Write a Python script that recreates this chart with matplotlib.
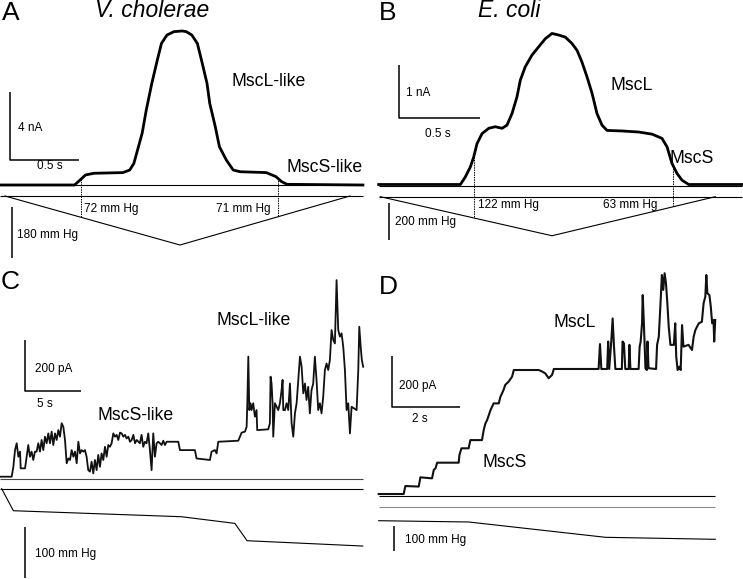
import matplotlib
matplotlib.use("Agg")
import matplotlib.pyplot as plt
import numpy as np

plt.rcParams['font.family'] = ['Liberation Sans', 'DejaVu Sans']

# ---------------- data ----------------
# Panel A (V. cholerae): current (nA) vs time (s), pressure ramp (mm Hg)
a_time = [0, 0.54, 0.58, 0.62, 0.68, 0.89, 0.94, 0.97, 0.99, 1.03,
          1.06, 1.10, 1.14, 1.17, 1.21, 1.26, 1.32, 1.35, 1.39, 1.43,
          1.46, 1.50, 1.52, 1.56, 1.59, 1.64, 1.69, 1.74, 1.93, 2.00,
          2.04, 2.08, 2.63]
a_current = [0, 0, 0.29, 0.59, 0.69, 0.73, 0.88, 1.27, 1.86, 3.04,
             4.41, 5.98, 7.35, 8.33, 8.82, 9.02, 9.06, 9.02, 8.82, 8.33,
             7.35, 5.98, 4.80, 3.43, 2.25, 1.47, 0.88, 0.78, 0.73, 0.49,
             0.20, 0.04, 0]
a_p_time = [0.036, 1.304, 2.536]
a_pressure = [0, -173, 0]
a_open_times = [0.587, 2.012]
a_open_labels = ["72 mm Hg", "71 mm Hg"]

# Panel B (E. coli)
b_time = [0, 0.501, 0.531, 0.562, 0.583, 0.603, 0.634, 0.675, 0.715, 0.757,
          0.787, 0.818, 0.848, 0.869, 0.899, 0.940, 0.982, 1.022, 1.063, 1.104,
          1.145, 1.186, 1.217, 1.247, 1.278, 1.309, 1.339, 1.370, 1.401, 1.493,
          1.595, 1.677, 1.738, 1.769, 1.799, 1.830, 1.861, 1.902, 2.229]
b_current = [0, 0, 0.14, 0.33, 0.52, 0.77, 0.96, 1.06, 1.09, 1.06,
             1.12, 1.34, 1.65, 1.97, 2.22, 2.44, 2.60, 2.75, 2.85, 2.82,
             2.78, 2.66, 2.53, 2.31, 2.03, 1.72, 1.34, 1.12, 1.02, 1.01,
             0.99, 0.95, 0.87, 0.71, 0.40, 0.21, 0.08, 0, 0]
b_p_time = [0.010, 1.063, 2.065]
b_pressure = [0, -213, 0]
b_open_times = [0.583, 1.806]
b_open_labels = ["122 mm Hg", "63 mm Hg"]

# Panel C (V. cholerae, single channels): current (pA) vs time (s)
c_time = [0.00, 1.05, 1.20, 1.35, 1.50, 1.65, 1.80, 1.86, 2.25, 2.40,
          2.54, 2.69, 2.84, 2.99, 3.14, 3.29, 3.44, 3.59, 3.74, 3.89,
          4.04, 4.19, 4.34, 4.49, 4.64, 4.79, 4.94, 5.09, 5.24, 5.39,
          5.54, 5.69, 5.84, 5.99, 6.14, 6.29, 6.44, 6.59, 6.74, 6.89,
          7.04, 7.19, 7.34, 7.49, 7.63, 7.78, 7.93, 8.08, 8.23, 8.38,
          8.53, 8.68, 8.83, 8.98, 9.13, 9.28, 9.43, 9.58, 9.73, 9.88,
          10.03, 10.18, 10.33, 10.48, 10.63, 10.78, 10.93, 11.08, 11.23, 11.38,
          11.53, 11.68, 11.83, 11.98, 12.13, 12.28, 12.43, 12.57, 12.72, 12.87,
          13.02, 13.17, 13.32, 13.47, 13.62, 13.77, 13.92, 14.07, 14.22, 14.37,
          14.52, 14.67, 14.82, 14.97, 16.02, 16.17, 17.51, 17.66, 18.86, 19.01,
          19.31, 19.46, 19.61, 21.41, 21.56, 21.71, 22.01, 22.16, 22.22, 22.31,
          22.40, 22.51, 22.60, 22.75, 22.90, 23.05, 23.11, 24.10, 24.25, 24.31,
          24.40, 24.49, 24.55, 24.70, 24.85, 25.00, 25.15, 25.30, 25.39, 25.45,
          25.60, 25.75, 25.90, 26.05, 26.20, 26.35, 26.50, 26.65, 26.80, 26.95,
          27.10, 27.25, 27.40, 27.54, 27.69, 27.84, 27.99, 28.14, 28.29, 28.44,
          28.59, 28.74, 28.89, 29.04, 29.19, 29.34, 29.49, 29.64, 29.79, 29.94,
          30.09, 30.24, 30.39, 30.54, 30.69, 30.84, 30.99, 31.14, 31.29, 31.44,
          31.59, 32.04, 32.19, 32.28, 32.43, 32.51, 32.63]
c_current = [0, 0, 39, 105, 132, 79, 99, 33, 33, 79,
             125, 79, 99, 66, 99, 99, 132, 99, 145, 105,
             158, 132, 171, 132, 178, 125, 171, 145, 184, 158,
             211, 197, 145, 53, 72, 66, 105, 79, 99, 53,
             138, 92, 105, 99, 105, 79, 26, 20, 59, 13,
             66, 26, 86, 39, 92, 66, 118, 79, 125, 118,
             132, 171, 158, 165, 145, 174, 171, 158, 165, 151,
             158, 138, 145, 165, 132, 145, 138, 132, 165, 118,
             138, 132, 171, 105, 26, 171, 79, 132, 138, 132,
             125, 142, 125, 138, 138, 105, 105, 72, 66, 99,
             105, 92, 138, 142, 158, 174, 178, 197, 290, 474,
             263, 290, 263, 290, 237, 263, 184, 187, 211, 395,
             368, 290, 158, 290, 276, 263, 290, 342, 382, 263,
             263, 290, 263, 368, 211, 158, 250, 290, 382, 474,
             434, 329, 368, 303, 355, 250, 342, 368, 474, 382,
             263, 290, 250, 316, 421, 447, 421, 461, 579, 540,
             526, 776, 579, 553, 566, 513, 421, 263, 290, 171,
             276, 263, 421, 592, 500, 461, 434]
c_p_time = [0.15, 1.20, 16.3, 21.1, 22.2, 32.6]
c_pressure = [0, -42.6, -54.2, -67.1, -100.6, -110.9]

# Panel D (E. coli, single channels)
d_time = [0.00, 0.73, 0.78, 1.17, 1.22, 1.56, 1.61, 1.66, 1.71, 2.34,
          2.36, 2.42, 2.63, 2.68, 3.02, 3.07, 3.12, 3.17, 3.27, 3.36,
          3.51, 3.56, 3.65, 3.70, 3.80, 3.90, 3.95, 4.68, 4.78, 4.87,
          4.97, 5.07, 5.12, 6.43, 6.47, 6.51, 6.68, 6.71, 6.74, 6.80,
          6.84, 6.88, 6.92, 7.11, 7.13, 7.17, 7.21, 7.31, 7.33, 7.36,
          7.60, 7.63, 7.66, 7.70, 7.72, 7.75, 7.80, 7.84, 7.86, 7.89,
          8.11, 8.14, 8.19, 8.22, 8.25, 8.28, 8.32, 8.36, 8.40, 8.44,
          8.48, 8.53, 8.63, 8.67, 8.70, 8.74, 8.79, 8.83, 8.87, 8.91,
          9.06, 9.16, 9.21, 9.26, 9.36, 9.45, 9.50, 9.55, 9.58, 9.61,
          9.67, 9.71, 9.75, 9.79, 9.81, 9.84]
d_current = [0, 0, 31, 29, 65, 61, 94, 100, 122, 122,
             152, 178, 178, 210, 210, 249, 275, 288, 327, 353,
             353, 379, 405, 425, 438, 457, 483, 483, 477, 470,
             451, 464, 487, 487, 584, 487, 487, 594, 487, 594,
             684, 574, 487, 487, 594, 587, 487, 487, 581, 487,
             487, 574, 594, 665, 775, 678, 490, 483, 594, 490,
             487, 581, 613, 691, 769, 853, 795, 860, 821, 743,
             652, 581, 581, 665, 535, 483, 496, 483, 658, 574,
             581, 561, 613, 639, 665, 671, 743, 769, 853, 782,
             775, 730, 665, 678, 594, 678]
d_p_time = [0.0, 2.63, 6.63, 9.84]
d_pressure = [-56.7, -61.9, -123.9, -132.0]

# ---------------- figure ----------------
W, H = 743, 579
fig = plt.figure(figsize=(W / 100, H / 100), dpi=100)


def panel_ax(xo, xs, yo, ys):
    """Axes over the whole figure: pixel x = xo + xs*x, pixel y = yo - ys*y."""
    ax = fig.add_axes([0, 0, 1, 1], frameon=False)
    ax.set_xlim(-xo / xs, (W - xo) / xs)
    ax.set_ylim((yo - H) / ys, yo / ys)
    ax.set_axis_off()
    ax.patch.set_alpha(0)
    return ax


canvas = fig.add_axes([0, 0, 1, 1], frameon=False)
canvas.set_xlim(0, W)
canvas.set_ylim(H, 0)
canvas.set_axis_off()

K = 'black'
small = 8.5
label = 12.7
big = 19
title = 16.5

# panel geometry: (xo, xs, yo, ys) for current & pressure
geo = {
    'A': dict(cur=(0, 138, 185, 17), pre=(0, 138, 196, 0.2833)),
    'B': dict(cur=(378.7, 163, 184.5, 53), pre=(378.7, 163, 196.7, 0.1833)),
    'C': dict(cur=(0, 11.13, 476.7, 0.2533), pre=(0, 11.13, 488.7, 0.517)),
    'D': dict(cur=(378.7, 34.2, 494, 0.2567), pre=(378.7, 34.2, 506.7, 0.247)),
}

axes = {}
for k, g in geo.items():
    axes[k] = (panel_ax(*g['cur']), panel_ax(*g['pre']))

# reference (zero) lines in pixel layout
refs = [((0, 363), 185, K), ((0, 363), 196, K),
        ((378.7, 742), 186, K), ((378.7, 742), 196.7, K),
        ((0, 363), 479.3, '#444444'), ((0, 363), 488.7, K),
        ((378.7, 715.3), 496, K), ((378.7, 715.3), 506.7, '#8c8c8c')]
for (x0, x1), y, c in refs:
    canvas.plot([x0, x1], [y, y], color=c, lw=0.8, solid_capstyle='butt')

# traces
axA, apA = axes['A']
axA.plot(a_time, a_current, color=K, lw=2.0)
apA.plot(a_p_time, a_pressure, color=K, lw=0.8)
axB, apB = axes['B']
axB.plot(b_time, b_current, color=K, lw=2.0)
apB.plot(b_p_time, b_pressure, color=K, lw=0.8)
axC, apC = axes['C']
axC.plot(c_time, c_current, color='#111111', lw=1.3)
apC.plot(c_p_time, c_pressure, color=K, lw=0.8)
axD, apD = axes['D']
axD.plot(d_time, d_current, color='#111111', lw=1.5)
apD.plot(d_p_time, d_pressure, color=K, lw=0.8)


# dashed opening markers (trace -> pressure ramp)
def opening_marks(key, times, cur_t, cur_v, p_t, p_v):
    xo, xs, yo, ys = geo[key]['cur']
    pxo, pxs, pyo, pys = geo[key]['pre']
    for t in times:
        i = np.interp(t, cur_t, cur_v)
        p = np.interp(t, p_t, p_v)
        px = xo + xs * t
        canvas.plot([px, px], [yo - ys * i, pyo - pys * p], color=K,
                    lw=0.7, linestyle=(0, (1.5, 1.0)))


opening_marks('A', a_open_times, a_time, a_current, a_p_time, a_pressure)
opening_marks('B', b_open_times, b_time, b_current, b_p_time, b_pressure)


# scale bars (in data units)
def bars(ax, x0, y0, dy, dx=None):
    if dx is None:
        ax.plot([x0, x0], [y0, y0 + dy], color=K, lw=1.1, solid_capstyle='butt')
    else:
        ax.plot([x0, x0, x0 + dx], [y0 + dy, y0, y0], color=K, lw=1.1,
                solid_capstyle='butt')


bars(axA, 0.0725, 1.47, 4, 0.5)
bars(apA, 0.085, -218.8, 180)
bars(axB, 0.1227, 1.255, 1, 0.5)
bars(apB, 0.0613, -236, 200)
bars(axC, 2.246, 339.5, 200, 5)
bars(apC, 2.246, -173.5, 100)
bars(axD, 0.389, 337.7, 200, 2)
bars(apD, 0.439, -178.1, 100)

# texts (pixel layout, baseline anchored)
texts = [
    ("A", 1.5, 20, big, 'normal'), ("B", 378.5, 20, big, 'normal'),
    ("C", 1.0, 289, big, 'normal'), ("D", 378.5, 294, big, 'normal'),
    ("MscL-like", 231.7, 86, label, 'normal'),
    ("MscS-like", 287, 171.5, label, 'normal'),
    ("4 nA", 17.7, 130.7, small, 'normal'),
    ("0.5 s", 37.3, 169, small, 'normal'),
    ("72 mm Hg", 83.5, 212, small, 'normal'),
    ("71 mm Hg", 216, 212, small, 'normal'),
    ("180 mm Hg", 17.3, 238, small, 'normal'),
    ("1 nA", 406.3, 95.7, small, 'normal'),
    ("0.5 s", 425.3, 136.7, small, 'normal'),
    ("MscL", 610.3, 90, label, 'normal'),
    ("MscS", 669.7, 163.3, label, 'normal'),
    ("122 mm Hg", 478, 208.3, small, 'normal'),
    ("63 mm Hg", 602.7, 208.3, small, 'normal'),
    ("200 mm Hg", 394.7, 225, small, 'normal'),
    ("MscL-like", 216.7, 325, label, 'normal'),
    ("200 pA", 35, 371.7, small, 'normal'),
    ("5 s", 36.7, 406.7, small, 'normal'),
    ("MscS-like", 97.3, 420, label, 'normal'),
    ("100 mm Hg", 35, 557.3, small, 'normal'),
    ("MscL", 553.7, 327.3, label, 'normal'),
    ("200 pA", 399.3, 389.3, small, 'normal'),
    ("2 s", 412, 421.7, small, 'normal'),
    ("MscS", 482, 466.7, label, 'normal'),
    ("100 mm Hg", 404.7, 543.3, small, 'normal'),
]
for s, x, y, fs, st in texts:
    canvas.text(x, y, s, fontsize=fs, ha='left', va='baseline', color=K)

canvas.text(95, 16.7, "V. cholerae", fontsize=title, style='italic',
            ha='left', va='baseline', color=K)
canvas.text(478, 16.7, "E. coli", fontsize=title, style='italic',
            ha='left', va='baseline', color=K)

fig.savefig("out.png", dpi=100, facecolor='white')
